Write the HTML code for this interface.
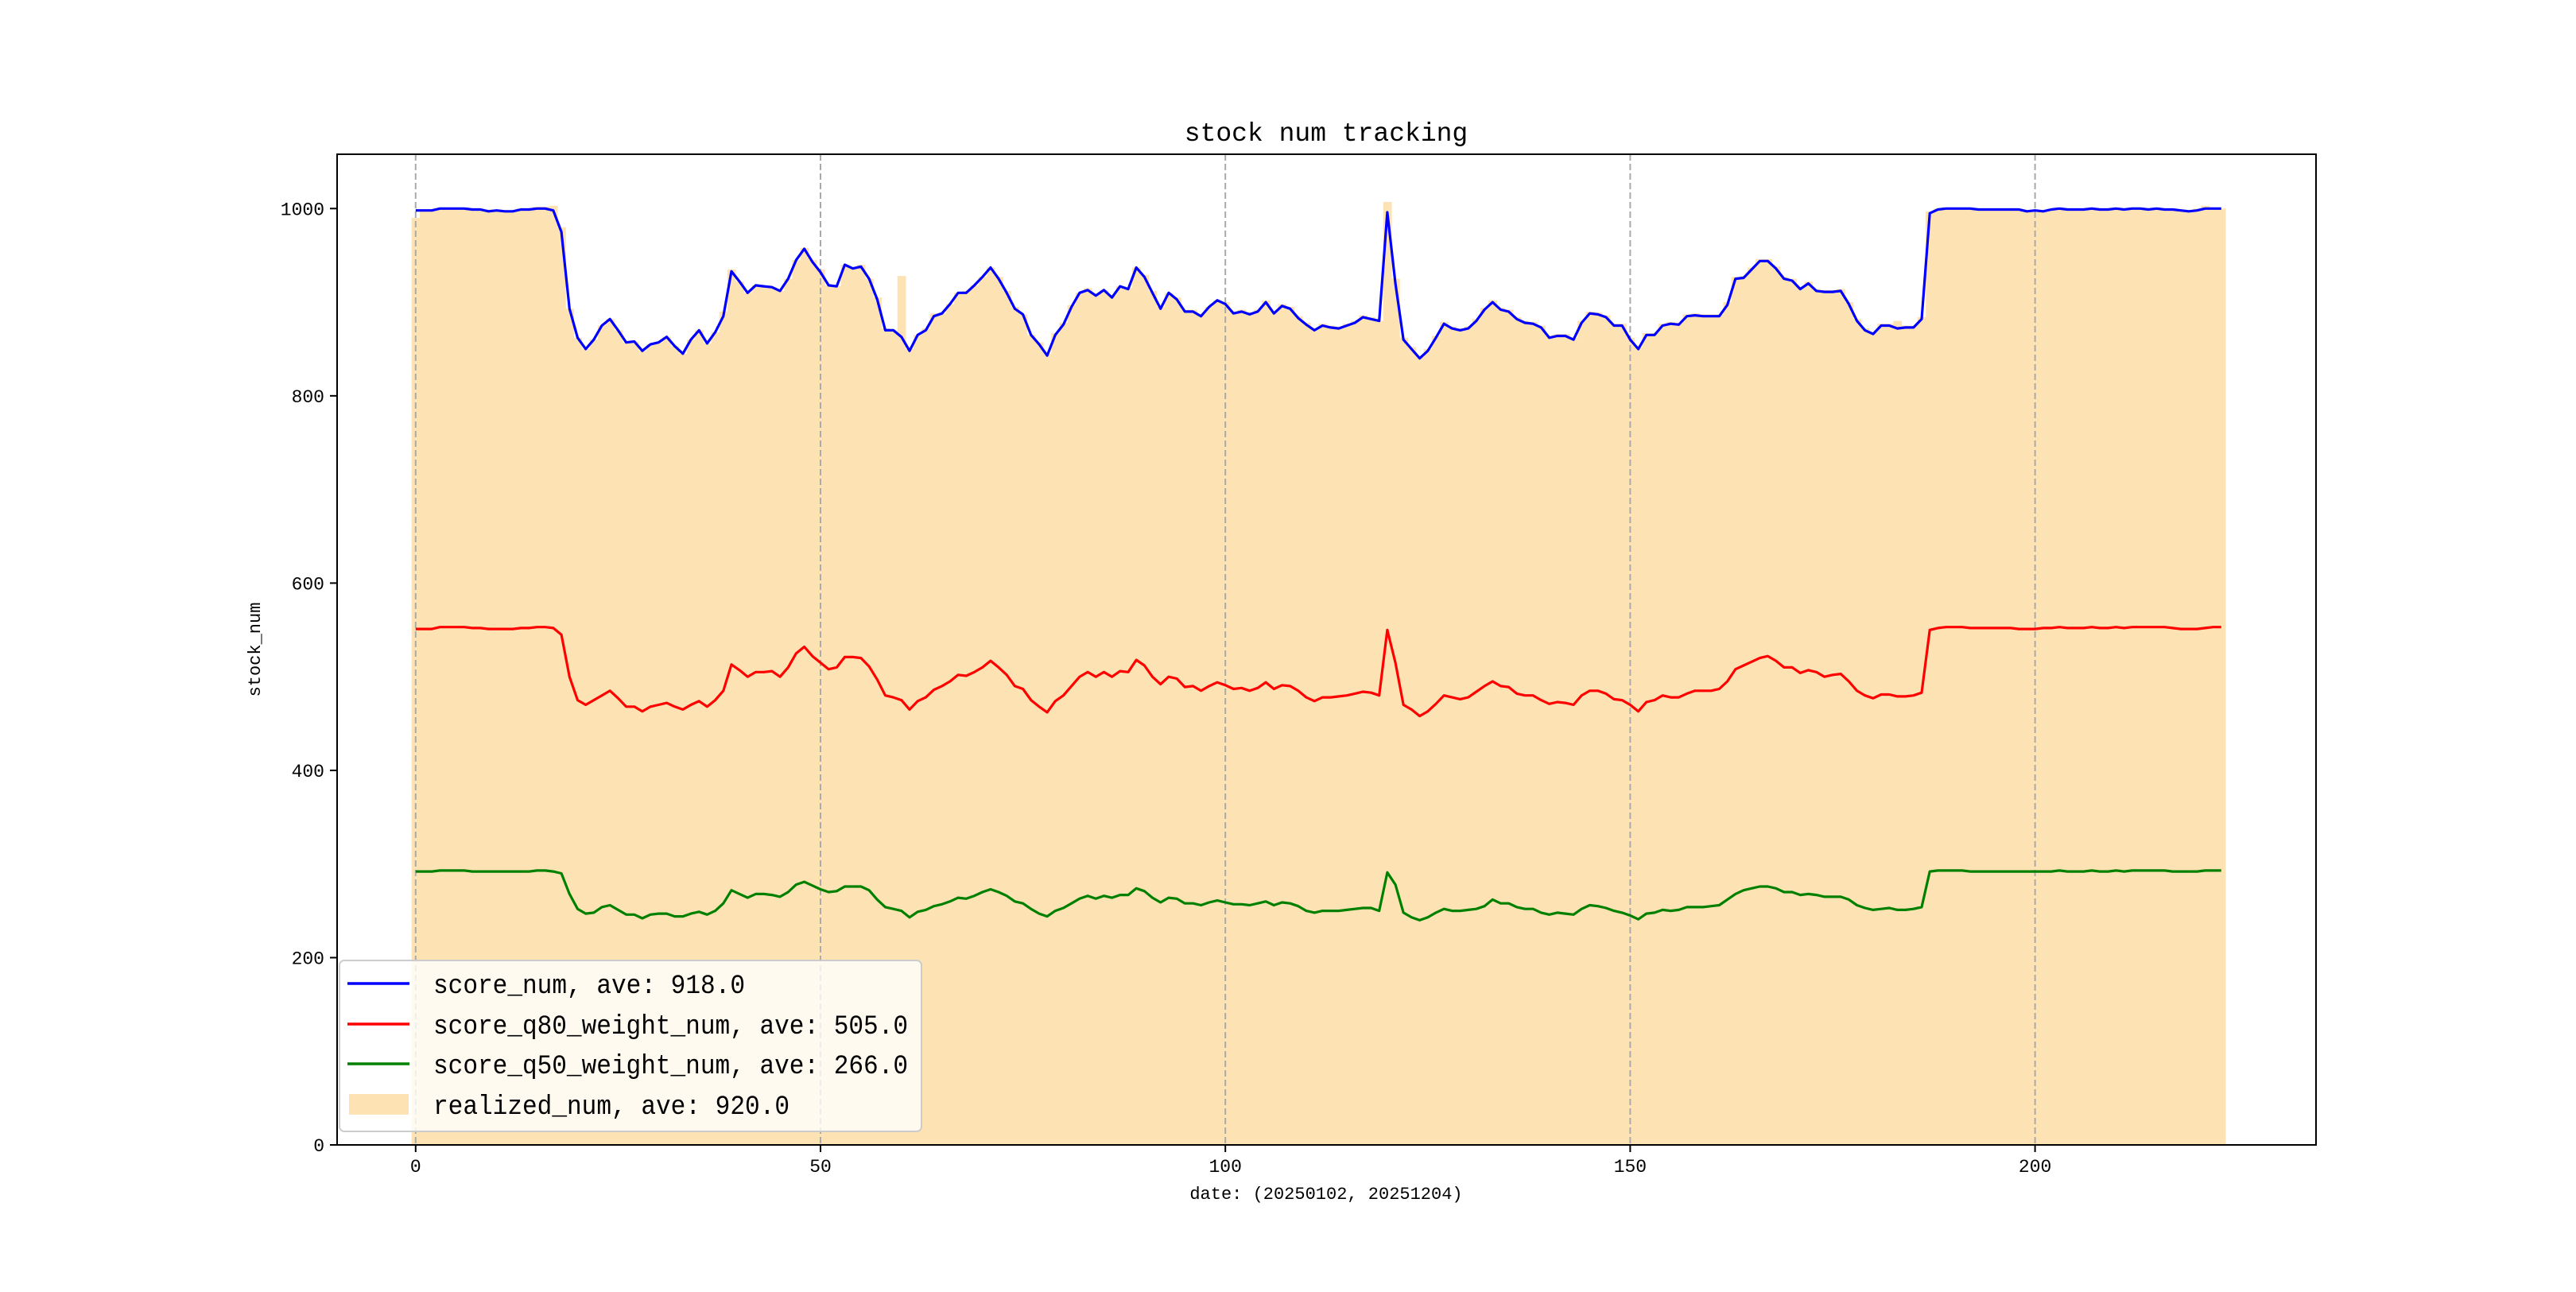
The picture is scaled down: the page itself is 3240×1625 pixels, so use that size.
<!DOCTYPE html>
<html><head><meta charset="utf-8"><style>
html,body{margin:0;padding:0;background:#fff}
svg text{font-family:"Liberation Mono","Noto Sans CJK SC",monospace}
</style></head><body>
<svg id="chart" width="3240" height="1620" viewBox="0 0 3240 1620" xmlns="http://www.w3.org/2000/svg">
<rect width="3240" height="1620" fill="#fff"/>
<g id="bars"></g>
<g id="grid"></g>
<g id="lines"></g>
<g id="axes"></g>
<text x="1668" y="177" font-size="33" text-anchor="middle">stock num tracking</text>
<text x="1668" y="1508" font-size="22" text-anchor="middle">date: (20250102, 20251204)</text>
<text x="327" y="817" font-size="22" text-anchor="middle" transform="rotate(-90 327 817)">stock_num</text>
<g id="legend"></g>
</svg>
<script>
const xTicks=[0,50,100,150,200];
const yTicks=[0,200,400,600,800,1000];
const scoreNum=[998,998,998,1000,1000,1000,1000,999,999,997,998,997,997,999,999,1000,1000,998,975,893,862,850,860,875,882,870,857,858,848,855,857,863,853,845,860,870,856,868,885,933,922,910,918,917,916,912,925,945,957,943,932,918,917,940,936,938,925,903,870,870,863,848,865,870,885,888,898,910,910,918,927,937,925,910,893,887,865,855,843,865,876,895,910,913,907,913,905,917,914,937,927,910,893,910,903,890,890,885,895,902,898,888,890,887,890,900,888,896,893,883,876,870,875,873,872,875,878,884,882,880,996,920,860,850,840,848,862,877,872,870,872,880,892,900,892,890,882,878,877,873,862,864,864,860,878,888,887,884,875,875,860,850,865,865,875,877,876,885,886,885,885,885,897,925,926,935,944,944,936,925,923,914,920,912,911,911,912,898,880,870,866,875,875,872,873,873,882,995,999,1000,1000,1000,1000,999,999,999,999,999,999,997,998,997,999,1000,999,999,999,1000,999,999,1000,999,1000,1000,999,1000,999,999,998,997,998,1000,1000,1000];
const q80Num=[551,551,551,553,553,553,553,552,552,551,551,551,551,552,552,553,553,552,545,500,475,470,475,480,485,477,468,468,463,468,470,472,468,465,470,474,468,475,485,513,507,500,505,505,506,500,510,525,532,522,515,508,510,521,521,520,511,497,480,478,475,465,474,478,486,490,495,502,501,505,510,517,510,502,490,487,475,468,462,474,480,490,500,505,500,505,500,506,505,518,512,500,492,500,498,489,490,485,490,494,491,487,488,485,488,494,487,491,490,485,478,474,478,478,479,480,482,484,483,480,550,515,470,465,458,463,471,480,478,476,478,484,490,495,490,489,482,480,480,475,471,473,472,470,480,485,485,482,476,475,470,463,473,475,480,478,478,482,485,485,485,487,495,508,512,516,520,522,517,510,510,504,507,505,500,502,503,495,485,480,477,481,481,479,479,480,483,550,552,553,553,553,552,552,552,552,552,552,551,551,551,552,552,553,552,552,552,553,552,552,553,552,553,553,553,553,553,552,551,551,551,552,553,553];
const q50Num=[292,292,292,293,293,293,293,292,292,292,292,292,292,292,292,293,293,292,290,268,252,247,248,254,256,251,246,246,242,246,247,247,244,244,247,249,246,250,258,272,268,264,268,268,267,265,270,278,281,277,273,270,271,276,276,276,272,262,254,252,250,243,249,251,255,257,260,264,263,266,270,273,270,266,260,258,252,247,244,250,253,258,263,266,263,266,264,267,267,274,271,264,259,264,263,258,258,256,259,261,259,257,257,256,258,260,256,259,258,255,250,248,250,250,250,251,252,253,253,250,291,278,248,243,240,243,248,252,250,250,251,252,255,262,258,258,254,252,252,248,246,248,247,246,252,256,255,253,250,248,245,241,247,248,251,250,251,254,254,254,255,256,262,268,272,274,276,276,274,270,270,267,268,267,265,265,265,262,256,253,251,252,253,251,251,252,254,292,293,293,293,293,292,292,292,292,292,292,292,292,292,292,292,293,292,292,292,293,292,292,293,292,293,293,293,293,293,292,292,292,292,293,293,293];
const realizedNum=[990,998,998,1000,1000,1000,1000,1000,999,999,998,998,998,1000,1000,1002,1002,1003,980,893,862,850,860,875,882,870,857,858,848,855,857,863,853,845,860,870,856,868,890,935,922,910,918,917,916,912,925,945,958,945,935,918,917,940,936,940,925,905,872,870,928,850,865,872,888,888,898,910,912,918,927,937,927,912,895,887,865,857,845,867,878,897,910,915,909,913,907,917,915,937,929,912,895,910,905,892,892,887,895,902,900,890,892,889,892,902,890,898,895,885,878,872,877,875,874,877,880,886,884,880,1007,925,862,852,842,850,864,879,874,872,874,882,894,902,894,892,884,880,879,875,864,866,866,862,880,890,889,886,877,877,862,852,867,867,877,879,878,887,888,887,887,887,900,927,928,937,946,946,938,927,925,916,922,914,913,913,914,900,882,872,868,877,877,880,875,875,884,997,1000,1000,1000,1000,1000,1000,1000,999,999,999,999,998,998,998,1000,1000,999,999,999,1000,999,999,1000,999,1000,1000,999,1000,999,1000,999,998,1000,1003,1000,1000];

const L=424,R=2913,T=194,B=1440;
const xMin=-9.7,xMax=234.7,yMin=0,yMax=1058;
function sx(v){return L+(v-xMin)/(xMax-xMin)*(R-L);}
function sy(v){return B-(v-yMin)/(yMax-yMin)*(B-T);}
const NS="http://www.w3.org/2000/svg";
function mk(tag,attrs,parent){const e=document.createElementNS(NS,tag);for(const k in attrs)e.setAttribute(k,attrs[k]);parent.appendChild(e);return e;}

const gb=document.getElementById('bars');
realizedNum.forEach((v,i)=>{
  const x0=sx(i-0.5),x1=sx(i+0.5);
  const r=mk('rect',{x:x0,y:sy(v),width:x1-x0+0.6,height:sy(0)-sy(v),fill:'#fde3b4'},gb);
  
  
});
const gg=document.getElementById('grid');
xTicks.forEach(t=>{
  const l=mk('line',{x1:sx(t),x2:sx(t),y1:T,y2:B,stroke:'#aaa','stroke-width':2,'stroke-dasharray':'8,4'},gg);
  
  
});
const gl=document.getElementById('lines');
function line(arr,color,name){
  const d=arr.map((v,i)=>(i?'L':'M')+sx(i).toFixed(1)+','+sy(v).toFixed(1)).join('');
  const p=mk('path',{d:d,fill:'none',stroke:color,'stroke-width':3.2,'stroke-linejoin':'round'},gl);
  
  
}
line(scoreNum,'#0000ff','score-num-line');
line(q80Num,'#ff0000','score-q80-line');
line(q50Num,'#008000','score-q50-line');
const ga=document.getElementById('axes');
const fr=mk('rect',{x:L,y:T,width:R-L,height:B-T,fill:'none',stroke:'#000','stroke-width':2},ga);


xTicks.forEach(t=>{
  mk('line',{x1:sx(t),x2:sx(t),y1:B,y2:B+9,stroke:'#000','stroke-width':2},ga);
  const tx=mk('text',{x:sx(t),y:B+34,'font-size':23,'text-anchor':'middle'},ga);
  tx.textContent=t;
  
  
});
yTicks.forEach(t=>{
  mk('line',{x1:L-9,x2:L,y1:sy(t),y2:sy(t),stroke:'#000','stroke-width':2},ga);
  const tx=mk('text',{x:L-16,y:sy(t)+8,'font-size':23,'text-anchor':'end'},ga);
  tx.textContent=t;
  
  
});
const lg=document.getElementById('legend');
const box=mk('rect',{x:427,y:1208,width:732,height:215,rx:6,fill:'#fff','fill-opacity':0.8,stroke:'#ccc','stroke-width':2},lg);


const entries=[['score_num, ave: 918.0','#0000ff',1237,false],['score_q80_weight_num, ave: 505.0','#ff0000',1288,false],['score_q50_weight_num, ave: 266.0','#008000',1338,false],['realized_num, ave: 920.0','#fde3b4',1389,true]];
entries.forEach(e=>{
  const g=mk('g',{},lg);
  
  
  if(e[3]) mk('rect',{x:439,y:e[2]-13,width:75,height:26,fill:e[1]},g);
  else mk('line',{x1:437,x2:515,y1:e[2],y2:e[2],stroke:e[1],'stroke-width':3.5},g);
  const t=mk('text',{x:545,y:e[2]+12,'font-size':34,textLength:(e[0].length*18.65).toFixed(0),lengthAdjust:'spacingAndGlyphs'},g);
  t.textContent=e[0];
});
</script>
</body></html>
